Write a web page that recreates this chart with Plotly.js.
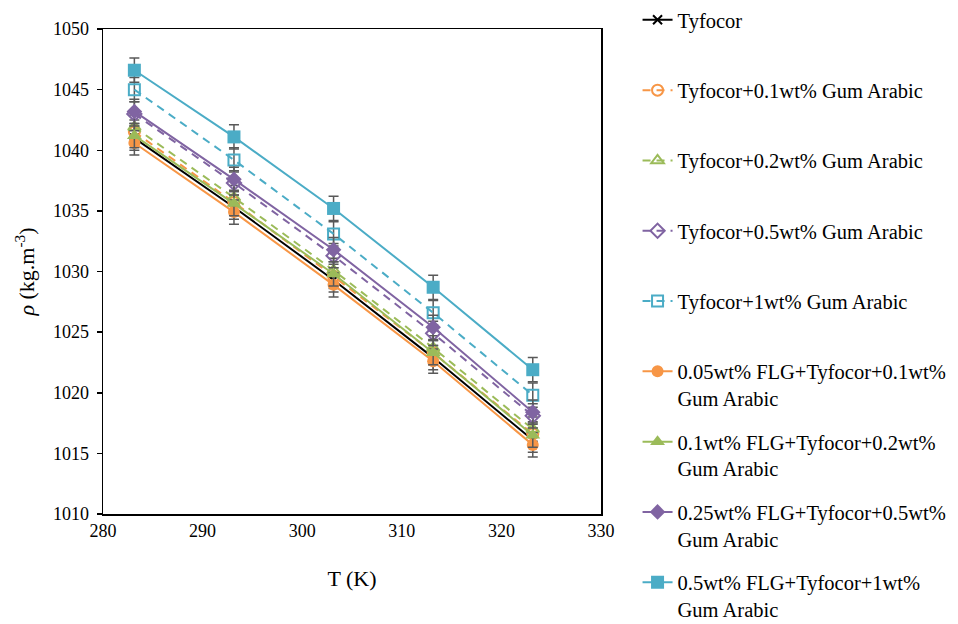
<!DOCTYPE html>
<html>
<head>
<meta charset="utf-8">
<script src="https://cdn.plot.ly/plotly-3.0.1.min.js"></script>
<style>html,body{margin:0;padding:0;background:#fff;}#chart{width:958px;height:624px;}</style>
</head>
<body>
<div id="chart"></div>
<script>
const temperatureK = [283.15, 293.15, 303.15, 313.15, 323.15];

const seriesNames = [
  "Tyfocor",
  "Tyfocor+0.1wt% Gum Arabic",
  "Tyfocor+0.2wt% Gum Arabic",
  "Tyfocor+0.5wt% Gum Arabic",
  "Tyfocor+1wt% Gum Arabic",
  "0.05wt% FLG+Tyfocor+0.1wt%<br>Gum Arabic",
  "0.1wt% FLG+Tyfocor+0.2wt%<br>Gum Arabic",
  "0.25wt% FLG+Tyfocor+0.5wt%<br>Gum Arabic",
  "0.5wt% FLG+Tyfocor+1wt%<br>Gum Arabic"
];

const rhoTyfocor   = [1041.0, 1035.3, 1029.3, 1022.9, 1016.1];
const rhoGA01      = [1041.5, 1035.7, 1029.6, 1023.3, 1016.6];
const rhoGA02      = [1041.9, 1036.1, 1030.1, 1023.7, 1017.0];
const rhoGA05      = [1043.0, 1037.3, 1031.3, 1024.9, 1018.1];
const rhoGA1       = [1045.0, 1039.2, 1033.1, 1026.6, 1019.8];
const rhoFLG005    = [1040.6, 1034.9, 1028.9, 1022.6, 1015.7];
const rhoFLG01     = [1041.2, 1035.6, 1029.8, 1023.3, 1016.5];
const rhoFLG025    = [1043.2, 1037.6, 1031.8, 1025.4, 1018.4];
const rhoFLG05     = [1046.6, 1041.1, 1035.2, 1028.7, 1021.9];

const errRho = [1, 1, 1, 1, 1];

const seriesValues = [rhoTyfocor, rhoGA01, rhoGA02, rhoGA05, rhoGA1, rhoFLG005, rhoFLG01, rhoFLG025, rhoFLG05];

const colors = ["#000000", "#F79646", "#9BBB59", "#8064A2", "#4BACC6", "#F79646", "#9BBB59", "#8064A2", "#4BACC6"];
const dashes = ["solid", "8px,6px", "8px,6px", "8px,6px", "8px,6px", "solid", "solid", "solid", "solid"];
const symbols = ["x-thin-open", "circle-open", "triangle-up-open", "diamond-open", "square-open", "circle", "triangle-up", "diamond", "square"];
const sizes = [9, 11, 11, 11, 11, 12, 13, 12, 13];

const traces = seriesValues.map((vals, i) => ({
  type: "scatter",
  mode: "lines+markers",
  x: temperatureK,
  y: vals,
  name: seriesNames[i] + (i < 5 ? "<br> " : ""),
  legendgroup: "g" + i,
  line: {color: colors[i], width: 2, dash: dashes[i]},
  marker: {symbol: symbols[i], size: sizes[i], color: colors[i], line: {color: colors[i], width: i === 0 ? 2 : (i < 5 ? 2 : 0)}},
  error_y: {type: "data", array: errRho, visible: true, color: "#595959", thickness: 1.5, width: 5}
}));

const fam = "'Palatino Linotype', 'Book Antiqua', Palatino, 'Liberation Serif', serif";

const layout = {
  width: 958, height: 624,
  margin: {l: 103, r: 357, t: 29, b: 110},
  paper_bgcolor: "#fff", plot_bgcolor: "#fff",
  font: {family: fam, size: 18, color: "#000"},
  showlegend: true,
  legend: {
    xref: "container", yref: "container",
    x: 0.6655, xanchor: "left", y: 1.012, yanchor: "top",
    font: {family: fam, size: 20.5, color: "#000"},
    valign: "top", tracegroupgap: 14, bgcolor: "rgba(0,0,0,0)",
    maxheight: 1000
  },
  xaxis: {
    range: [280, 330], dtick: 10, tick0: 280,
    showline: true, linecolor: "#000", linewidth: 1.5, mirror: true,
    ticks: "", showgrid: false, zeroline: false,
    title: {text: "T (K)", font: {family: fam, size: 22}, standoff: 30},
    tickfont: {family: fam, size: 18}
  },
  yaxis: {
    range: [1010, 1050], dtick: 5, tick0: 1010,
    showline: true, linecolor: "#000", linewidth: 1.5, mirror: true,
    ticks: "outside", ticklen: 5, tickwidth: 1.5, tickcolor: "#000",
    ticklabelstandoff: 4,
    showgrid: false, zeroline: false,
    title: {text: "<i>ρ</i> (kg.m<sup>-3</sup>)", font: {family: fam, size: 22}, standoff: 12},
    tickfont: {family: fam, size: 18}
  }
};

Plotly.newPlot("chart", traces, layout, {displayModeBar: false, staticPlot: true});
</script>
</body>
</html>
